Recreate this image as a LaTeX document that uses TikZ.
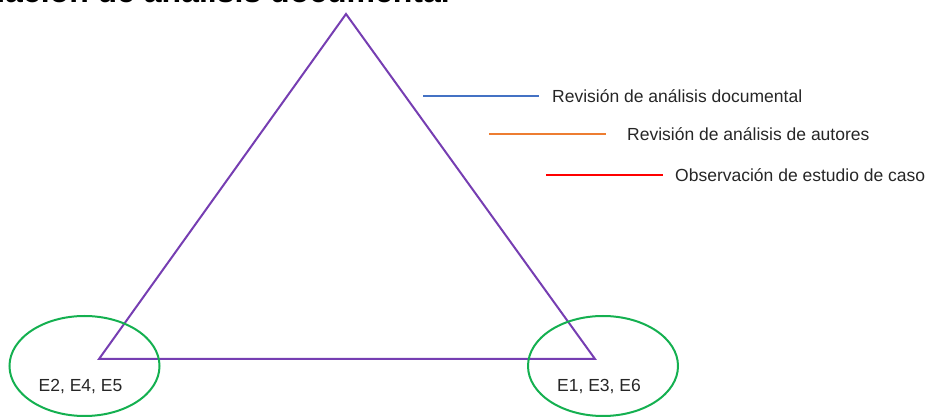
\documentclass[tikz,border=0pt]{standalone}
\usepackage{fontspec}
\setmainfont{Liberation Sans}
\usepackage{tikz}

\definecolor{lila}{RGB}{118,62,178}
\definecolor{verde}{RGB}{20,176,80}
\definecolor{azul}{RGB}{68,114,196}
\definecolor{naranja}{RGB}{237,125,49}
\definecolor{rojo}{RGB}{255,0,0}

\begin{document}
\begin{tikzpicture}[x=1pt,y=1pt]
                \tikzstyle{leyenda}=[font=\fontsize{17.5}{20}\selectfont,text=black!85,inner sep=0pt]
                \tikzstyle{grupo}=[draw=verde,line width=2pt]
                \useasboundingbox (0,0) rectangle (931,417);
                \clip (0,0) rectangle (931,417);

                \node[anchor=base east,inner sep=0pt,font=\fontsize{32}{36}\selectfont\bfseries] (titulo) at (450,414) {Triangulación de análisis documental};

                % triangulo
                \coordinate (T-top) at (346,403);
                \coordinate (T-izq) at (99,58);
                \coordinate (T-der) at (595,58);
                \draw[lila,line width=2pt,line join=miter] (T-top) -- (T-der) -- (T-izq) -- cycle;

                % grupos de estudiantes
                \foreach \nom/\x/\txt in {izq/84.5/{E2, E4, E5}, der/603/{E1, E3, E6}}{
                        \draw[grupo] (\x,51) ellipse (75 and 50);
                        \node[leyenda,anchor=base] (E-\nom) at (\x-4,25) {\txt};
                }

                % leyenda
                \foreach \num/\a/\b/\t/\y/\col/\txt in {1/423/539/552/321/azul/{Revisión de análisis documental}, 2/489/606/627/283/naranja/{Revisión de análisis de autores}, 3/546/663/675/242/rojo/{Observación de estudio de caso}}{
                        \coordinate (L-\num-a) at (\a,\y);
                        \coordinate (L-\num-b) at (\b,\y);
                        \node[leyenda,anchor=west] (L-\num) at (\t,\y) {\txt};
                        \draw[\col,line width=1.5pt] (L-\num-a) -- (L-\num-b);
                }
            \end{tikzpicture}
\end{document}
